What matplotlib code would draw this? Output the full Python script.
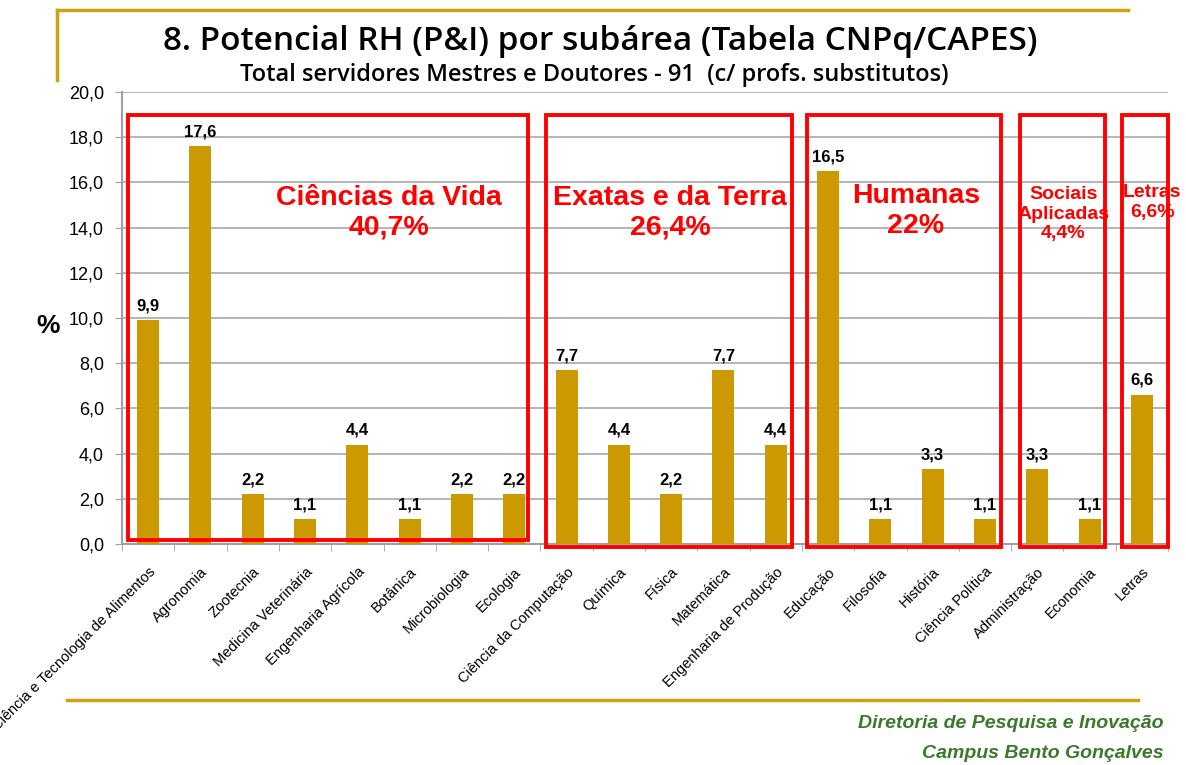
import matplotlib
matplotlib.use("Agg")
import matplotlib.pyplot as plt
from matplotlib.patches import Rectangle
from matplotlib.lines import Line2D
import numpy as np

categories = ["Ciência e Tecnologia de Alimentos", "Agronomia", "Zootecnia",
              "Medicina Veterinária", "Engenharia Agrícola", "Botânica",
              "Microbiologia", "Ecologia", "Ciência da Computação", "Química",
              "Física", "Matemática", "Engenharia de Produção", "Educação",
              "Filosofia", "História", "Ciência Política", "Administração",
              "Economia", "Letras"]
values = [9.9, 17.6, 2.2, 1.1, 4.4, 1.1, 2.2, 2.2, 7.7, 4.4, 2.2, 7.7, 4.4,
          16.5, 1.1, 3.3, 1.1, 3.3, 1.1, 6.6]
yticks = [0, 2, 4, 6, 8, 10, 12, 14, 16, 18, 20]
group_names = ["Ciências da Vida\n40,7%", "Exatas e da Terra\n26,4%", "Humanas\n22%",
               "Sociais\nAplicadas\n4,4%", "Letras\n6,6%"]

BAR = "#CC9900"
RED = "#FF0000"
GOLD = "#D0A010"
GREEN = "#3A7A2A"

W, H = 1186, 765
fig = plt.figure(figsize=(W / 100, H / 100), dpi=100)
ax = fig.add_axes([122 / W, 1 - 544 / H, (1168 - 122) / W, (544 - 92) / H])
x = np.arange(len(categories))
ax.bar(x, values, width=0.42, color=BAR, zorder=3)
ax.set_xlim(-0.5, len(categories) - 0.5)
ax.set_ylim(0, 20)
ax.set_yticks(yticks)
ax.set_yticklabels([f"{v:.1f}".replace(".", ",") for v in yticks],
                   fontsize=13, family="Liberation Sans")
ax.yaxis.grid(True, color="#A8A8A8", linewidth=1.2, zorder=0)
ax.set_axisbelow(True)
for s in ["top", "right"]:
    ax.spines[s].set_visible(False)
for s in ["left", "bottom"]:
    ax.spines[s].set_color("#A0A0A0")
    ax.spines[s].set_linewidth(1.5)
ax.tick_params(axis="y", length=5, color="#A0A0A0", pad=8)
ax.set_xticks(x)
ax.set_xticklabels(categories, rotation=45, ha="right", rotation_mode="anchor",
                   fontsize=10.5, family="Liberation Sans")
ax.tick_params(axis="x", length=0, pad=15)
ax.set_xticks(np.arange(-0.5, len(categories), 1), minor=True)
ax.tick_params(axis="x", which="minor", length=5, color="#A0A0A0")

for xi, v in zip(x, values):
    ax.annotate(f"{v:.1f}".replace(".", ","), (xi, v), xytext=(0, 5),
                textcoords="offset points", ha="center", va="bottom",
                fontsize=12, fontweight="bold", family="Liberation Sans")

fig.text(48 / W, 1 - 326 / H, "%", fontsize=19, fontweight="bold",
         family="Liberation Sans", ha="center", va="center")

# group boxes (x0, x1, bottom) in data units
boxes = [(-0.38, 7.27, 0.18), (7.61, 12.31, -0.13), (12.6, 16.31, -0.13),
         (16.67, 18.3, -0.13), (18.62, 19.5, -0.13)]
for (x0, x1, y0) in boxes:
    r = Rectangle((x0, y0), x1 - x0, 19.0 - y0, fill=False, edgecolor=RED,
                  linewidth=2.8, clip_on=False, zorder=5)
    ax.add_patch(r)

# group labels (x, y, fontsize)
label_pos = [(4.6, 14.65, 20.5), (9.98, 14.65, 20.5), (14.68, 14.75, 20.5),
             (17.5, 14.6, 14), (19.2, 15.1, 14)]
for name, (lx, ly, fs) in zip(group_names, label_pos):
    ax.text(lx, ly, name, ha="center", va="center", color=RED, fontsize=fs,
            fontweight="bold", family="Liberation Sans", linespacing=1.2,
            zorder=6, clip_on=False)

# titles
fig.text(600 / W, 1 - 41 / H, "8. Potencial RH (P&I) por subárea (Tabela CNPq/CAPES)",
         ha="center", va="center", fontsize=24, family="Open Sans", fontweight="semibold")
fig.text(594 / W, 1 - 75 / H, "Total servidores Mestres e Doutores - 91  (c/ profs. substitutos)",
         ha="center", va="center", fontsize=17, family="Open Sans", fontweight="semibold")

# decorative gold lines
fig.add_artist(Line2D([57 / W, 1128 / W], [1 - 10 / H, 1 - 10 / H], color=GOLD,
                      linewidth=2.5, transform=fig.transFigure))
fig.add_artist(Line2D([57 / W, 57 / W], [1 - 10 / H, 1 - 80 / H], color=GOLD,
                      linewidth=2.5, transform=fig.transFigure))
fig.add_artist(Line2D([67 / W, 1138 / W], [1 - 700 / H, 1 - 700 / H],
                      color=GOLD, linewidth=2.5, transform=fig.transFigure))

fig.text(1164 / W, 1 - 724 / H, "Diretoria de Pesquisa e Inovação", ha="right",
         va="center", fontsize=14, fontweight="bold", style="italic", color=GREEN,
         family="Liberation Sans")
fig.text(1164 / W, 1 - 753 / H, "Campus Bento Gonçalves", ha="right",
         va="center", fontsize=14, fontweight="bold", style="italic", color=GREEN,
         family="Liberation Sans")

fig.savefig("out.png", dpi=100)
